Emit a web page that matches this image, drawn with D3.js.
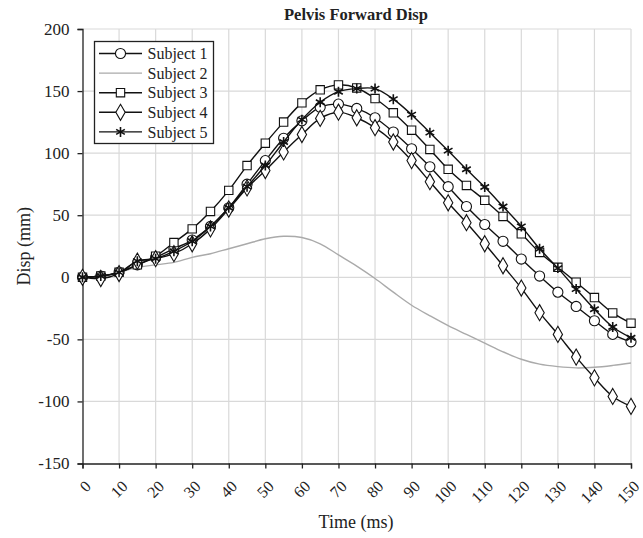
<!DOCTYPE html>
<html>
<head>
<meta charset="utf-8">
<script src="https://cdn.jsdelivr.net/npm/d3@7"></script>
<style>
  body { margin: 0; background: #fff; }
  text { font-family: "Liberation Serif", "Times New Roman", serif; fill: #222; }
</style>
</head>
<body>
<script>
// time samples (ms), markers every 5 ms
var times = d3.range(0, 151, 5);

var subject1 = [0, 1, 4, 10, 16, 23, 30, 41, 56, 75, 94, 112, 126, 137, 139.5, 136, 128.5, 117, 103.5, 89, 73, 57, 42.5, 29, 14.7, 1, -12, -23.5, -35, -46, -52];
var subject2 = [0, 1, 4, 8, 10, 12, 16, 19, 23, 27, 31, 33, 32, 27, 18, 9, -1, -12, -22.5, -31, -39, -46, -53, -60, -66, -70, -72, -73, -72.5, -71, -69];
var subject3 = [0, 1, 4, 10, 17, 28, 39, 53, 70, 90, 108, 125, 140.5, 151, 155, 152.5, 144, 132.5, 118.5, 103, 87, 74, 62, 49, 35, 20, 8, -4, -16.3, -28.7, -37];
var subject4 = [0, -1, 3, 13, 15, 19, 27, 39, 55, 72, 86, 101, 115, 128, 133, 128.5, 120.5, 109, 94, 77, 60, 44, 27, 9.3, -8.7, -28.5, -46, -64.3, -81, -96, -104];
var subject5 = [0, 1, 4, 13, 15, 21, 29, 41, 56, 73, 90, 109, 127, 141, 149.5, 152, 152, 143.5, 131, 116.5, 102, 87, 72.7, 57, 41, 23, 7.4, -9.5, -25.7, -40, -48.7];

var seriesNames = ["Subject 1", "Subject 2", "Subject 3", "Subject 4", "Subject 5"];
var seriesValues = [subject1, subject2, subject3, subject4, subject5];
var markerTypes = ["circle", "none", "square", "diamond", "star"];

var xTicks = d3.range(0, 151, 10);
var yTicks = d3.range(-150, 201, 50);

var W = 643, H = 538;
var svg = d3.select("body").append("svg")
    .attr("width", W)
    .attr("height", H);

var xScale = d3.scaleLinear().domain([0, 150]).range([82.5, 631]);
var yScale = d3.scaleLinear().domain([-150, 200]).range([463.5, 29]);

// grid
svg.append("g").selectAll("line.vg")
    .data(xTicks.slice(1))
    .enter().append("line")
    .attr("x1", function(d){ return xScale(d); })
    .attr("x2", function(d){ return xScale(d); })
    .attr("y1", yScale(200))
    .attr("y2", yScale(-150))
    .style("stroke", "#d9d9d9")
    .style("stroke-width", 1.2);
svg.append("g").selectAll("line.hg")
    .data(yTicks.slice(1))
    .enter().append("line")
    .attr("x1", xScale(0))
    .attr("x2", xScale(150))
    .attr("y1", function(d){ return yScale(d); })
    .attr("y2", function(d){ return yScale(d); })
    .style("stroke", "#d9d9d9")
    .style("stroke-width", 1.2);

// axes (plain hyphen for negatives, like the original)
var fmt = function(d){ return String(d); };
var xAxis = d3.axisBottom(xScale).tickValues(xTicks).tickSize(5).tickFormat(fmt);
var yAxis = d3.axisLeft(yScale).tickValues(yTicks).tickSize(5).tickFormat(fmt);

var gx = svg.append("g")
    .attr("transform", "translate(0," + yScale(-150) + ")")
    .call(xAxis);
gx.select(".domain").attr("stroke", "#222").attr("stroke-width", 1.3);
gx.selectAll(".tick line").attr("stroke", "#222").attr("stroke-width", 1.3);
gx.selectAll(".tick text")
    .style("font-size", "16px")
    .attr("text-anchor", "end")
    .attr("y", 0)
    .attr("dy", "0.35em")
    .attr("transform", "translate(5,20) rotate(-45)");

var gy = svg.append("g")
    .attr("transform", "translate(" + xScale(0) + ",0)")
    .call(yAxis);
gy.select(".domain").attr("stroke", "#222").attr("stroke-width", 1.3);
gy.selectAll(".tick line").attr("stroke", "#222").attr("stroke-width", 1.3);
gy.selectAll(".tick text").style("font-size", "17px").attr("x", -13);

// lines
var line = d3.line()
    .x(function(d, i){ return xScale(times[i]); })
    .y(function(d){ return yScale(d); })
    .curve(d3.curveCatmullRom.alpha(0.5));

function symbolPath(type) {
    if (type === "circle") return d3.symbol().type(d3.symbolCircle).size(80)();
    if (type === "square") return d3.symbol().type(d3.symbolSquare).size(70)();
    if (type === "diamond") return d3.symbol().type(d3.symbolDiamond).size(75)();
    if (type === "star") return d3.symbol().type(d3.symbolAsterisk).size(70)();
    return null;
}

// draw subject 2 first (grey, no markers) then the others
var order = [1, 0, 2, 3, 4];
order.forEach(function(k) {
    var vals = seriesValues[k];
    var grey = markerTypes[k] === "none";
    svg.append("path")
        .datum(vals)
        .attr("d", line)
        .style("fill", "none")
        .style("stroke", grey ? "#aaaaaa" : "#111")
        .style("stroke-width", 1.4);
    if (!grey) {
        svg.append("g").selectAll("path")
            .data(vals)
            .enter().append("path")
            .attr("transform", function(d, i){ return "translate(" + xScale(times[i]) + "," + yScale(d) + ")"; })
            .attr("d", symbolPath(markerTypes[k]))
            .style("fill", markerTypes[k] === "star" ? "none" : "#fff")
            .style("stroke", "#111")
            .style("stroke-width", markerTypes[k] === "star" ? 1.6 : 1.1);
    }
});

// legend
var legend = svg.append("g");
legend.append("rect")
    .attr("x", 94.5).attr("y", 41.5)
    .attr("width", 119).attr("height", 102)
    .style("fill", "#fff")
    .style("stroke", "#222")
    .style("stroke-width", 1.3);
seriesNames.forEach(function(name, i) {
    var yy = 53.5 + i * 19.6;
    var grey = markerTypes[i] === "none";
    legend.append("line")
        .attr("x1", 99).attr("x2", 142)
        .attr("y1", yy).attr("y2", yy)
        .style("stroke", grey ? "#aaaaaa" : "#111")
        .style("stroke-width", 1.4);
    if (!grey) {
        legend.append("path")
            .attr("transform", "translate(120.5," + yy + ")")
            .attr("d", symbolPath(markerTypes[i]))
            .style("fill", markerTypes[i] === "star" ? "none" : "#fff")
            .style("stroke", "#111")
            .style("stroke-width", markerTypes[i] === "star" ? 1.6 : 1.1);
    }
    legend.append("text")
        .attr("x", 147.5).attr("y", yy)
        .attr("dy", "0.35em")
        .style("font-size", "16px")
        .text(name);
});

// titles
svg.append("text")
    .attr("x", 356).attr("y", 20)
    .attr("text-anchor", "middle")
    .style("font-size", "16.5px")
    .style("font-weight", "bold")
    .text("Pelvis Forward Disp");

svg.append("text")
    .attr("x", 356).attr("y", 528)
    .attr("text-anchor", "middle")
    .style("font-size", "18px")
    .text("Time (ms)");

svg.append("text")
    .attr("transform", "translate(30," + yScale(25) + ") rotate(-90)")
    .attr("text-anchor", "middle")
    .style("font-size", "18px")
    .text("Disp (mm)");
</script>
</body>
</html>
